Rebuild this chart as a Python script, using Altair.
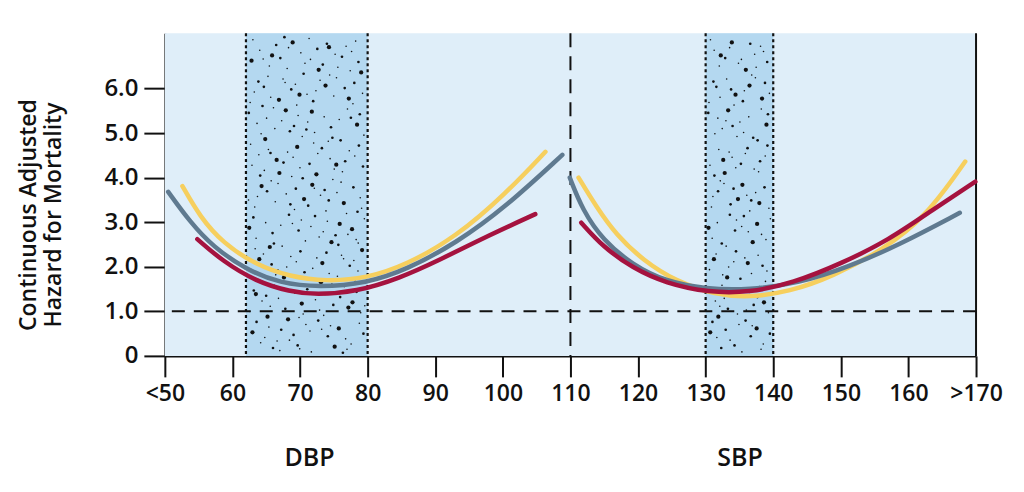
import altair as alt
import pandas as pd

# ---- data ----
dbp_grey_x = [50.5, 53.7, 57.1, 62.1, 67.0, 72.9, 79.8, 85.7, 93.1, 100.5, 108.8]
dbp_grey_y = [3.68, 3.01, 2.45, 1.93, 1.63, 1.54, 1.63, 1.93, 2.53, 3.35, 4.51]
dbp_yellow_x = [52.6, 55.2, 58.6, 63.5, 68.5, 73.9, 79.8, 85.7, 93.1, 100.5, 106.3]
dbp_yellow_y = [3.81, 3.12, 2.53, 2.04, 1.78, 1.67, 1.74, 2.04, 2.67, 3.65, 4.58]
dbp_red_x = [54.8, 58.6, 63.5, 68.5, 72.4, 78.3, 84.7, 90.6, 98.0, 104.8]
dbp_red_y = [2.62, 2.12, 1.67, 1.44, 1.37, 1.44, 1.74, 2.15, 2.71, 3.18]

sbp_grey_x = [109.9, 111.8, 114.8, 119.2, 124.1, 130.0, 136.4, 143.8, 151.2, 158.6, 167.6]
sbp_grey_y = [4.00, 3.27, 2.60, 2.04, 1.67, 1.50, 1.48, 1.63, 2.00, 2.49, 3.21]
sbp_yellow_x = [111.2, 113.8, 116.8, 120.7, 125.6, 131.5, 136.4, 142.4, 148.8, 156.2, 162.6, 168.4]
sbp_yellow_y = [4.00, 3.35, 2.71, 2.15, 1.67, 1.37, 1.31, 1.44, 1.78, 2.38, 3.12, 4.36]
sbp_red_x = [111.6, 114.8, 119.2, 124.1, 130.5, 136.4, 142.9, 150.2, 157.1, 163.5, 169.9]
sbp_red_y = [2.99, 2.45, 1.97, 1.63, 1.42, 1.42, 1.63, 2.08, 2.60, 3.27, 3.91]

x_ticks = [50, 60, 70, 80, 90, 100, 110, 120, 130, 140, 150, 160, 170]
y_ticks = [0, 1, 2, 3, 4, 5, 6]
bands = [(62, 80), (130, 140)]
group_labels = ["DBP", "SBP"]
group_label_x = [71.4, 135.1]
reference_y = 1.0
divider_x = 110

X_MIN, X_MAX = 50, 170
Y_MIN, Y_MAX = 0, 7.24

YELLOW = "#F6CF5E"
GREY = "#5F7A90"
RED = "#A5123F"
BG = "#DFEEF9"
BAND = "#B4D8F0"
INK = "#111111"
FONT = "Open Sans"

xs = alt.Scale(domain=[X_MIN, X_MAX], nice=False, zero=False)
ys = alt.Scale(domain=[Y_MIN, Y_MAX], nice=False)


def curve_df(xv, yv, seg):
    return pd.DataFrame({"x": xv, "y": yv, "seg": seg})


yellow_df = pd.concat([curve_df(dbp_yellow_x, dbp_yellow_y, "DBP"),
                       curve_df(sbp_yellow_x, sbp_yellow_y, "SBP")])
grey_df = pd.concat([curve_df(dbp_grey_x, dbp_grey_y, "DBP"),
                     curve_df(sbp_grey_x, sbp_grey_y, "SBP")])
red_df = pd.concat([curve_df(dbp_red_x, dbp_red_y, "DBP"),
                    curve_df(sbp_red_x, sbp_red_y, "SBP")])

# background
bg = alt.Chart(pd.DataFrame({"x": [X_MIN], "x2": [X_MAX], "y": [Y_MIN], "y2": [Y_MAX]})).mark_rect(
    color=BG).encode(
    x=alt.X("x:Q", scale=xs,
            axis=alt.Axis(values=x_ticks, title=None, grid=False, labelOverlap=False,
                          labelFlush=False, labelFontSize=23, labelPadding=6,
                          labelExpr="datum.value == 50 ? '<50' : datum.value == 170 ? '>170' : datum.value")),
    x2="x2",
    y=alt.Y("y:Q", scale=ys,
            axis=alt.Axis(values=y_ticks, title=None, grid=False, labelPadding=6, labelOverlap=False,
                          labelFlush=False,
                          labelExpr="datum.value == 0 ? '0' : format(datum.value, '.1f')")),
    y2="y2")

band_df = pd.DataFrame({"x": [b[0] for b in bands], "x2": [b[1] for b in bands],
                        "y": [Y_MIN] * len(bands), "y2": [Y_MAX] * len(bands)})
band_rect = alt.Chart(band_df).mark_rect(color=BAND).encode(
    x=alt.X("x:Q", scale=xs), x2="x2", y=alt.Y("y:Q", scale=ys), y2="y2")


# stipple texture inside the bands (deterministic low-discrepancy pattern)
def halton(i, b):
    f, r = 1.0, 0.0
    while i > 0:
        f /= b
        r += f * (i % b)
        i //= b
    return r


dots = []
for (lo, hi), n in zip(bands, [260, 145]):
    for i in range(1, n + 1):
        k = i + 11
        h5 = halton(k, 5)
        s = 18 if h5 > 0.84 else (7 if h5 > 0.55 else 2.5)
        dots.append({"x": lo + 0.35 + halton(k, 2) * (hi - lo - 0.7),
                     "y": 0.06 + halton(k, 3) * (Y_MAX - 0.12),
                     "s": s})
dot_layer = alt.Chart(pd.DataFrame(dots)).mark_circle(color=INK, opacity=1).encode(
    x=alt.X("x:Q", scale=xs), y=alt.Y("y:Q", scale=ys),
    size=alt.Size("s:Q", scale=None, legend=None))

edge_df = pd.DataFrame({"x": [v for b in bands for v in b]})
edges = alt.Chart(edge_df).mark_rule(color=INK, strokeWidth=2.2, strokeDash=[3, 3]).encode(
    x=alt.X("x:Q", scale=xs))

hline = alt.Chart(pd.DataFrame({"y": [reference_y]})).mark_rule(
    color=INK, strokeWidth=2, strokeDash=[13, 9]).encode(y=alt.Y("y:Q", scale=ys))
vline = alt.Chart(pd.DataFrame({"x": [divider_x]})).mark_rule(
    color=INK, strokeWidth=2, strokeDash=[14, 9]).encode(x=alt.X("x:Q", scale=xs))
right_border = alt.Chart(pd.DataFrame({"x": [X_MAX]})).mark_rule(
    color=INK, strokeWidth=2).encode(x=alt.X("x:Q", scale=xs))


def line_layer(df, color):
    return alt.Chart(df).mark_line(color=color, strokeWidth=4.5, strokeCap="round",
                                   interpolate="basis").encode(
        x=alt.X("x:Q", scale=xs), y=alt.Y("y:Q", scale=ys), detail="seg:N")


group_text = alt.Chart(pd.DataFrame({"x": group_label_x, "t": group_labels})).mark_text(
    font=FONT, fontSize=25, fontWeight=600, color=INK, baseline="middle").encode(
    x=alt.X("x:Q", scale=xs), y=alt.value(425), text="t:N")

ytitle = alt.Chart(pd.DataFrame({"a": [0]})).mark_text(
    font=FONT, fontSize=23, fontWeight=600, color=INK, angle=270,
    baseline="middle", align="center", lineHeight=25,
    text=["Continuous Adjusted", "Hazard for Mortality"]).encode(
    x=alt.value(-136), y=alt.value(182))

chart = alt.layer(
    bg, band_rect, dot_layer, edges, hline, vline, right_border,
    line_layer(yellow_df, YELLOW), line_layer(grey_df, GREY), line_layer(red_df, RED),
    group_text, ytitle
).properties(
    width=812, height=323, autosize="none",
    padding={"left": 157, "top": 25, "right": 40, "bottom": 130},
).configure_view(stroke=None).configure_axis(
    domainColor=INK, domainWidth=2, tickColor=INK, tickWidth=2, tickSize=21,
    labelFont=FONT, labelFontSize=24, labelFontWeight=600, labelColor=INK,
)

chart.save("out.html", embed_options={"renderer": "svg", "actions": False})
